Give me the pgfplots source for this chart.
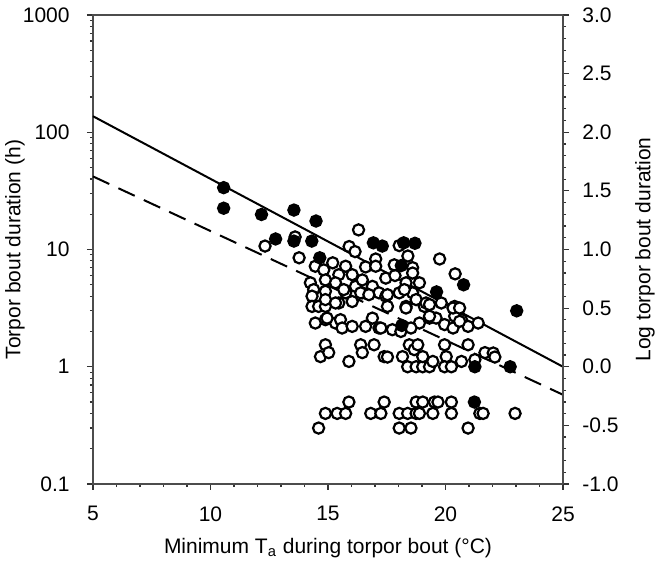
\documentclass[border=0pt]{standalone}
\usepackage{pgfplots}
\usepackage{pgfplotstable}
\pgfplotsset{compat=1.18}
\usepackage{fontspec}
\setmainfont{Liberation Sans}

\pgfplotstableread{
x y
12.32 10.7
13.6 12.8
16.3 14.7
13.77 8.5
15.9 10.6
16.15 9.6
17.03 8.3
18.03 10.8
18.4 8.8
19.75 8.3
20.41 6.2
14.46 7.2
15.2 7.7
15.75 7.2
16.03 6.1
15.46 6.1
16.6 7.1
17.03 7.2
17.46 5.7
17.85 6.0
17.82 7.4
18.6 7.0
18.6 6.3
14.82 6.7
14.25 5.2
14.39 4.55
14.32 4.0
14.89 5.5
14.89 4.4
15.32 5.2
15.75 4.27
15.46 3.5
14.32 3.27
14.6 3.27
14.89 3.27
16.17 4.85
16.46 4.27
16.89 4.85
17.17 4.27
17.46 4.0
17.53 3.27
18.03 4.27
18.32 5.2
18.6 4.27
18.32 3.27
16.46 5.5
15.67 4.55
16.39 4.27
16.74 4.12
17.53 4.12
18.25 4.55
18.89 5.2
18.75 3.74
19.1 3.27
14.89 3.74
15.32 3.5
16.03 3.6
18.32 3.17
14.46 2.36
14.89 2.52
15.32 2.36
15.53 2.52
14.96 2.6
16.89 2.6
17.17 2.14
17.74 2.07
19.32 2.6
19.6 2.6
19.17 3.5
19.82 3.5
20.39 3.27
20.68 2.52
20.39 2.7
20.96 2.21
21.39 2.36
19.96 2.29
19.32 2.7
18.89 2.36
15.6 2.14
16.03 2.21
16.6 2.21
17.25 2.14
18.1 2.0
18.53 2.14
20.32 2.14
20.6 2.44
20.32 3.17
20.6 3.17
19.32 3.39
14.89 1.54
14.68 1.22
15.03 1.32
15.89 1.11
16.39 1.54
16.46 1.32
16.96 1.54
17.39 1.22
17.53 1.21
18.17 1.22
18.46 1.54
18.67 1.4
18.82 1.54
18.39 1.0
18.75 1.0
19.03 1.0
19.32 1.0
19.46 1.11
19.03 1.22
19.96 1.54
20.03 1.22
19.96 1.0
20.25 1.0
20.68 1.11
20.96 1.54
21.25 1.15
21.68 1.32
22.03 1.31
22.1 1.21
15.89 0.5
17.39 0.5
18.75 0.5
19.03 0.5
19.53 0.5
19.68 0.5
20.25 0.5
14.89 0.4
15.39 0.4
15.75 0.4
16.82 0.4
17.25 0.4
18.03 0.4
18.39 0.4
18.75 0.4
18.89 0.4
19.46 0.4
20.25 0.4
21.46 0.4
21.6 0.4
22.96 0.4
14.6 0.3
18.03 0.3
18.53 0.3
20.96 0.3
}\opendata

\pgfplotstableread{
x y
10.56 33.7
10.56 22.5
12.17 19.9
13.55 21.7
14.49 17.5
12.77 12.3
13.55 11.8
14.31 11.8
14.65 8.5
16.93 11.4
17.31 10.7
18.22 11.4
18.7 11.3
18.12 7.3
19.62 4.35
20.77 5.0
23.03 3.0
18.14 2.25
21.25 1.0
22.75 1.0
21.23 0.5
}\filleddata

\begin{document}
\fontsize{10.5bp}{12bp}\selectfont
\begin{tikzpicture}
\useasboundingbox (0,0) rectangle (332bp,289.5bp);
\begin{axis}[
  at={(46.5bp,47.5bp)}, anchor=south west,
  width=235bp, height=234.5bp, scale only axis,
  xmin=5, xmax=25, ymode=log, ymin=0.1, ymax=1000,
  xtick={5,10,15,20,25}, minor x tick num=4,
  ytick={0.1,1,10,100,1000}, yticklabels={0.1,1,10,100,1000},
  xtick pos=left, ytick pos=left, tick align=outside,
  major tick length=3bp, minor tick length=1.6bp,
  axis line style={black!70, line width=0.7bp},
  every tick/.style={black!80, line width=0.6bp},
  /pgf/number format/assume math mode=true,
  tick label style={font=\fontsize{10.5bp}{12bp}\selectfont},
  xticklabel style={yshift=-4.5bp},
  yticklabel style={xshift=-5bp},
  label style={font=\fontsize{10.5bp}{12bp}\selectfont},
  xlabel={Minimum T\textsubscript{a} during torpor bout (°C)},
  xlabel style={at={(axis description cs:0.5,-0.136)}, anchor=center},
  ylabel={Torpor bout duration (h)},
  ylabel style={at={(axis description cs:-0.166,0.5)}, anchor=center},
  clip=false,
]
\addplot[only marks, mark=*, mark size=2.8bp, mark options={fill=white, draw=black, line width=1.1bp}] table {\opendata};
\addplot[only marks, mark=*, mark size=2.8bp, mark options={fill=black, draw=black, line width=1.1bp}] table {\filleddata};
\addplot[black, line width=1bp] coordinates {(5,137) (25,1.0)};
\addplot[black, line width=1bp, dash pattern=on 9bp off 5bp] coordinates {(5,42) (25,0.577)};
\end{axis}
\begin{axis}[
  at={(46.5bp,47.5bp)}, anchor=south west,
  width=235bp, height=234.5bp, scale only axis,
  xmin=5, xmax=25, ymin=-1, ymax=3,
  axis x line=none, axis y line*=right,
  ytick={-1,-0.5,0,0.5,1,1.5,2,2.5,3}, minor y tick num=4,
  tick align=outside,
  major tick length=3bp, minor tick length=1.6bp,
  axis line style={black!70, line width=0.7bp},
  every tick/.style={black!80, line width=0.6bp},
  /pgf/number format/assume math mode=true,
  yticklabel style={xshift=3bp, /pgf/number format/.cd, fixed, fixed zerofill, precision=1},
  tick label style={font=\fontsize{10.5bp}{12bp}\selectfont},
  label style={font=\fontsize{10.5bp}{12bp}\selectfont},
  ylabel={Log torpor bout duration},
  ylabel style={at={(axis description cs:1.1745,0.5)}, anchor=center},
]
\addplot[draw=none] coordinates {(5,0)};
\end{axis}
\end{tikzpicture}
\end{document}
